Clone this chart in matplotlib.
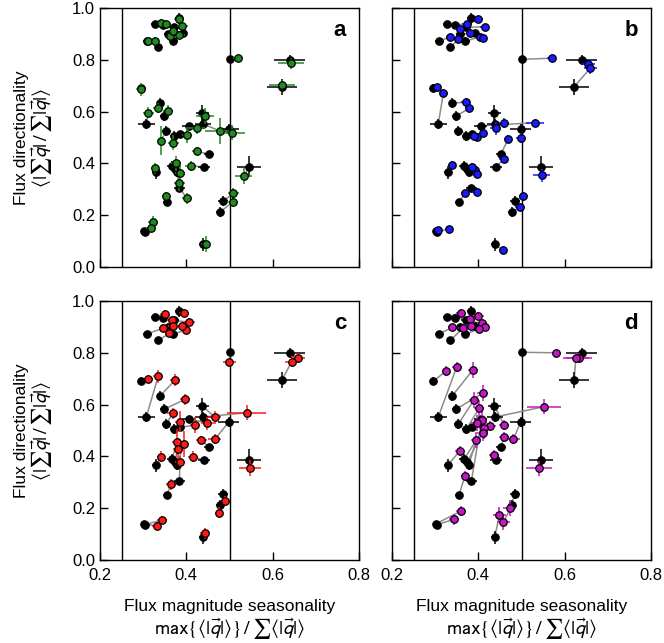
import matplotlib
matplotlib.use("Agg")
import matplotlib.pyplot as plt

plt.rcParams['font.family'] = ['Liberation Sans', 'DejaVu Sans']
plt.rcParams['mathtext.fontset'] = 'stixsans'

# Baseline sites (black)
base_x = [0.383, 0.327, 0.345, 0.372, 0.310, 0.335, 0.370, 0.358, 0.392, 0.502,
          0.639, 0.622, 0.296, 0.339, 0.348, 0.307, 0.437, 0.439, 0.406, 0.498,
          0.354, 0.372, 0.452, 0.440, 0.329, 0.367, 0.378, 0.546, 0.384, 0.355,
          0.485, 0.478, 0.305, 0.438, 0.374, 0.385, 0.302]
base_y = [0.960, 0.937, 0.935, 0.925, 0.874, 0.848, 0.872, 0.900, 0.905, 0.802,
          0.799, 0.696, 0.690, 0.633, 0.582, 0.551, 0.595, 0.552, 0.545, 0.532,
          0.526, 0.505, 0.435, 0.386, 0.366, 0.390, 0.368, 0.388, 0.306, 0.250,
          0.254, 0.212, 0.137, 0.088, 0.378, 0.512, 0.140]
base_xerr = [0.010, 0.010, 0.010, 0.012, 0.010, 0.008, 0.010, 0.010, 0.010, 0.008,
             0.035, 0.035, 0.008, 0.008, 0.008, 0.020, 0.015, 0.018, 0.015, 0.025,
             0.010, 0.010, 0.012, 0.014, 0.008, 0.012, 0.010, 0.028, 0.012, 0.008,
             0.012, 0.010, 0.008, 0.008, 0.010, 0.010, 0.008]
base_yerr = [0.020, 0.010, 0.010, 0.015, 0.010, 0.010, 0.015, 0.010, 0.010, 0.010,
             0.020, 0.030, 0.015, 0.020, 0.020, 0.020, 0.030, 0.020, 0.010, 0.020,
             0.020, 0.020, 0.010, 0.010, 0.025, 0.020, 0.020, 0.040, 0.010, 0.010,
             0.020, 0.020, 0.010, 0.025, 0.020, 0.015, 0.010]

# Scenario a (green)
a_x = [0.383, 0.341, 0.354, 0.391, 0.312, 0.327, 0.384, 0.362, 0.370, 0.520,
       0.642, 0.621, 0.294, 0.335, 0.358, 0.312, 0.443, 0.478, 0.424, 0.505,
       0.341, 0.370, 0.424, 0.410, 0.327, 0.376, 0.385, 0.533, 0.401, 0.353,
       0.509, 0.507, 0.323, 0.445, 0.384, 0.402, 0.318]
a_y = [0.958, 0.943, 0.938, 0.932, 0.874, 0.874, 0.896, 0.892, 0.912, 0.806,
       0.786, 0.703, 0.686, 0.613, 0.604, 0.596, 0.583, 0.525, 0.535, 0.519,
       0.488, 0.480, 0.448, 0.391, 0.381, 0.400, 0.364, 0.351, 0.265, 0.274,
       0.284, 0.250, 0.175, 0.089, 0.323, 0.510, 0.149]
a_xerr = [0.012, 0.010, 0.010, 0.012, 0.010, 0.010, 0.012, 0.010, 0.010, 0.012,
          0.030, 0.030, 0.010, 0.012, 0.012, 0.012, 0.020, 0.035, 0.020, 0.030,
          0.010, 0.012, 0.012, 0.012, 0.010, 0.012, 0.012, 0.020, 0.012, 0.010,
          0.012, 0.012, 0.012, 0.010, 0.012, 0.012, 0.012]
a_yerr = [0.015, 0.015, 0.015, 0.015, 0.015, 0.015, 0.015, 0.015, 0.015, 0.010,
          0.020, 0.020, 0.025, 0.020, 0.020, 0.020, 0.030, 0.050, 0.020, 0.030,
          0.055, 0.030, 0.015, 0.020, 0.020, 0.030, 0.030, 0.030, 0.020, 0.015,
          0.020, 0.020, 0.020, 0.030, 0.030, 0.030, 0.015]

# Scenario b (blue)
b_x = [0.400, 0.357, 0.373, 0.415, 0.334, 0.354, 0.404, 0.381, 0.411, 0.570,
       0.655, 0.659, 0.305, 0.371, 0.379, 0.319, 0.440, 0.459, 0.531, 0.499,
       0.396, 0.411, 0.469, 0.459, 0.338, 0.392, 0.396, 0.547, 0.396, 0.369,
       0.504, 0.496, 0.332, 0.456, 0.385, 0.390, 0.306]
b_y = [0.958, 0.918, 0.938, 0.928, 0.887, 0.879, 0.889, 0.902, 0.886, 0.806,
       0.784, 0.767, 0.694, 0.636, 0.613, 0.671, 0.535, 0.555, 0.557, 0.497,
       0.503, 0.516, 0.493, 0.416, 0.394, 0.375, 0.360, 0.355, 0.291, 0.284,
       0.274, 0.230, 0.146, 0.066, 0.385, 0.505, 0.141]
b_xerr = [0.010, 0.010, 0.010, 0.010, 0.010, 0.010, 0.010, 0.010, 0.010, 0.010,
          0.015, 0.015, 0.008, 0.010, 0.010, 0.010, 0.012, 0.012, 0.020, 0.012,
          0.010, 0.010, 0.010, 0.010, 0.008, 0.010, 0.010, 0.020, 0.010, 0.010,
          0.010, 0.012, 0.010, 0.008, 0.010, 0.010, 0.008]
b_yerr = [0.010, 0.010, 0.010, 0.010, 0.010, 0.010, 0.010, 0.010, 0.010, 0.010,
          0.020, 0.020, 0.010, 0.015, 0.015, 0.015, 0.025, 0.020, 0.015, 0.020,
          0.015, 0.015, 0.015, 0.015, 0.015, 0.015, 0.015, 0.025, 0.015, 0.015,
          0.015, 0.015, 0.010, 0.015, 0.015, 0.015, 0.010]

# Scenario c (red)
c_x = [0.395, 0.350, 0.366, 0.407, 0.347, 0.361, 0.399, 0.368, 0.391, 0.499,
       0.659, 0.644, 0.312, 0.374, 0.397, 0.335, 0.466, 0.540, 0.449, 0.466,
       0.368, 0.385, 0.435, 0.415, 0.341, 0.379, 0.395, 0.547, 0.385, 0.364,
       0.490, 0.476, 0.343, 0.443, 0.380, 0.420, 0.331]
c_y = [0.955, 0.950, 0.927, 0.918, 0.895, 0.875, 0.888, 0.905, 0.905, 0.766,
       0.779, 0.766, 0.698, 0.695, 0.620, 0.710, 0.551, 0.569, 0.528, 0.466,
       0.566, 0.534, 0.463, 0.399, 0.399, 0.457, 0.448, 0.356, 0.380, 0.292,
       0.229, 0.183, 0.154, 0.103, 0.430, 0.521, 0.131]
c_xerr = [0.012, 0.010, 0.010, 0.012, 0.010, 0.010, 0.012, 0.010, 0.010, 0.015,
          0.015, 0.015, 0.010, 0.012, 0.012, 0.012, 0.015, 0.045, 0.015, 0.015,
          0.012, 0.012, 0.012, 0.012, 0.010, 0.012, 0.012, 0.025, 0.012, 0.012,
          0.010, 0.010, 0.012, 0.012, 0.012, 0.012, 0.010]
c_yerr = [0.015, 0.015, 0.015, 0.015, 0.015, 0.015, 0.015, 0.015, 0.015, 0.010,
          0.020, 0.020, 0.015, 0.025, 0.020, 0.025, 0.025, 0.030, 0.025, 0.020,
          0.020, 0.040, 0.015, 0.020, 0.020, 0.050, 0.050, 0.030, 0.020, 0.020,
          0.020, 0.020, 0.015, 0.020, 0.040, 0.030, 0.015]

# Scenario d (magenta)
d_x = [0.400, 0.359, 0.381, 0.408, 0.340, 0.364, 0.415, 0.383, 0.402, 0.581,
       0.634, 0.626, 0.325, 0.387, 0.410, 0.350, 0.460, 0.552, 0.428, 0.481,
       0.390, 0.402, 0.460, 0.437, 0.357, 0.413, 0.395, 0.541, 0.408, 0.369,
       0.473, 0.458, 0.344, 0.449, 0.410, 0.396, 0.360]
d_y = [0.942, 0.955, 0.929, 0.914, 0.898, 0.894, 0.901, 0.903, 0.891, 0.800,
       0.779, 0.779, 0.730, 0.733, 0.644, 0.746, 0.521, 0.592, 0.517, 0.466,
       0.618, 0.586, 0.476, 0.405, 0.421, 0.508, 0.463, 0.354, 0.541, 0.324,
       0.200, 0.145, 0.157, 0.174, 0.490, 0.528, 0.189]
d_xerr = [0.012, 0.010, 0.010, 0.012, 0.010, 0.010, 0.012, 0.010, 0.010, 0.010,
          0.030, 0.030, 0.010, 0.012, 0.012, 0.012, 0.012, 0.040, 0.012, 0.015,
          0.012, 0.012, 0.012, 0.012, 0.010, 0.012, 0.012, 0.030, 0.012, 0.010,
          0.015, 0.015, 0.012, 0.015, 0.012, 0.012, 0.012]
d_yerr = [0.015, 0.015, 0.015, 0.015, 0.015, 0.015, 0.015, 0.015, 0.015, 0.010,
          0.020, 0.020, 0.020, 0.030, 0.030, 0.020, 0.020, 0.030, 0.020, 0.020,
          0.030, 0.030, 0.020, 0.020, 0.020, 0.040, 0.030, 0.030, 0.040, 0.020,
          0.030, 0.030, 0.020, 0.030, 0.030, 0.030, 0.020]

panel_letters = ['a', 'b', 'c', 'd']
panel_colors = ['#1f8a1f', '#1a1aff', '#ff1a1a', '#c21ac2']
panel_x = [a_x, b_x, c_x, d_x]
panel_y = [a_y, b_y, c_y, d_y]
panel_xerr = [a_xerr, b_xerr, c_xerr, d_xerr]
panel_yerr = [a_yerr, b_yerr, c_yerr, d_yerr]

x_ticks = [0.2, 0.4, 0.6, 0.8]
y_ticks = [0.0, 0.2, 0.4, 0.6, 0.8, 1.0]
x_lines = [0.25, 0.5]

xlabel_text = 'Flux magnitude seasonality'
xlabel_math = r'$\mathrm{max}\{\langle|\vec{q}|\rangle\}\,/\,\sum\langle|\vec{q}|\rangle$'
ylabel_text = 'Flux directionality'
ylabel_math = r'$\langle|\sum\vec{q}|\,/\,\sum|\vec{q}|\rangle$'

W, H = 664, 643
PANEL = 259
fig = plt.figure(figsize=(W / 100, H / 100), dpi=100)


def rect(left, top, w=PANEL, h=PANEL):
    return [left / W, 1 - (top + h) / H, w / W, h / H]


corners = [(100, 8), (392, 8), (100, 301), (392, 301)]

for k, (left, top) in enumerate(corners):
    ax = fig.add_axes(rect(left, top))
    ax.set_xlim(0.2, 0.8)
    ax.set_ylim(0.0, 1.0)
    for xv in x_lines:
        ax.axvline(xv, color='black', lw=1.0, zorder=1)

    xs, ys = panel_x[k], panel_y[k]
    col = panel_colors[k]
    for i in range(len(base_x)):
        ax.plot([base_x[i], xs[i]], [base_y[i], ys[i]], color='#8c8c8c',
                lw=1.1, zorder=2)
    ax.errorbar(base_x, base_y, xerr=base_xerr, yerr=base_yerr, fmt='o',
                color='black', ecolor='black', elinewidth=1.1, capsize=0,
                ms=5.4, mec='black', mew=0.8, zorder=3)
    ax.errorbar(xs, ys, xerr=panel_xerr[k], yerr=panel_yerr[k], fmt='o',
                color=col, ecolor=col, elinewidth=1.1, capsize=0,
                ms=5.4, mfc=col, mec='black', mew=0.9, zorder=4)

    ax.set_xticks(x_ticks)
    ax.set_yticks(y_ticks)
    ax.tick_params(direction='in', length=6, width=1, labelsize=12,
                   top=False, right=False)
    ax.tick_params(axis='x', pad=6)
    for s in ax.spines.values():
        s.set_linewidth(1.0)
    if k < 2:
        ax.tick_params(labelbottom=False)
    else:
        ax.set_xticklabels(['0.2', '0.4', '0.6', '0.8'])
        cx = (left + PANEL / 2) / W
        fig.text(cx, 1 - 606 / H, xlabel_text, ha='center', va='center',
                 fontsize=12.5)
        fig.text(cx, 1 - 629 / H, xlabel_math, ha='center', va='center',
                 fontsize=14.5)
    if k % 2 == 1:
        ax.tick_params(labelleft=False)
    else:
        ax.set_yticklabels(['0.0', '0.2', '0.4', '0.6', '0.8', '1.0'])
        cy = 1 - (top + PANEL / 2) / H
        fig.text(22 / W, cy, ylabel_text, ha='center', va='center',
                 rotation=90, fontsize=12.5)
        fig.text(42 / W, cy, ylabel_math, ha='center', va='center',
                 rotation=90, fontsize=14.5)
    ax.text(0.95, 0.955, panel_letters[k], transform=ax.transAxes,
            ha='right', va='top', fontsize=16, fontweight='bold')

fig.savefig('out.png', dpi=100)
